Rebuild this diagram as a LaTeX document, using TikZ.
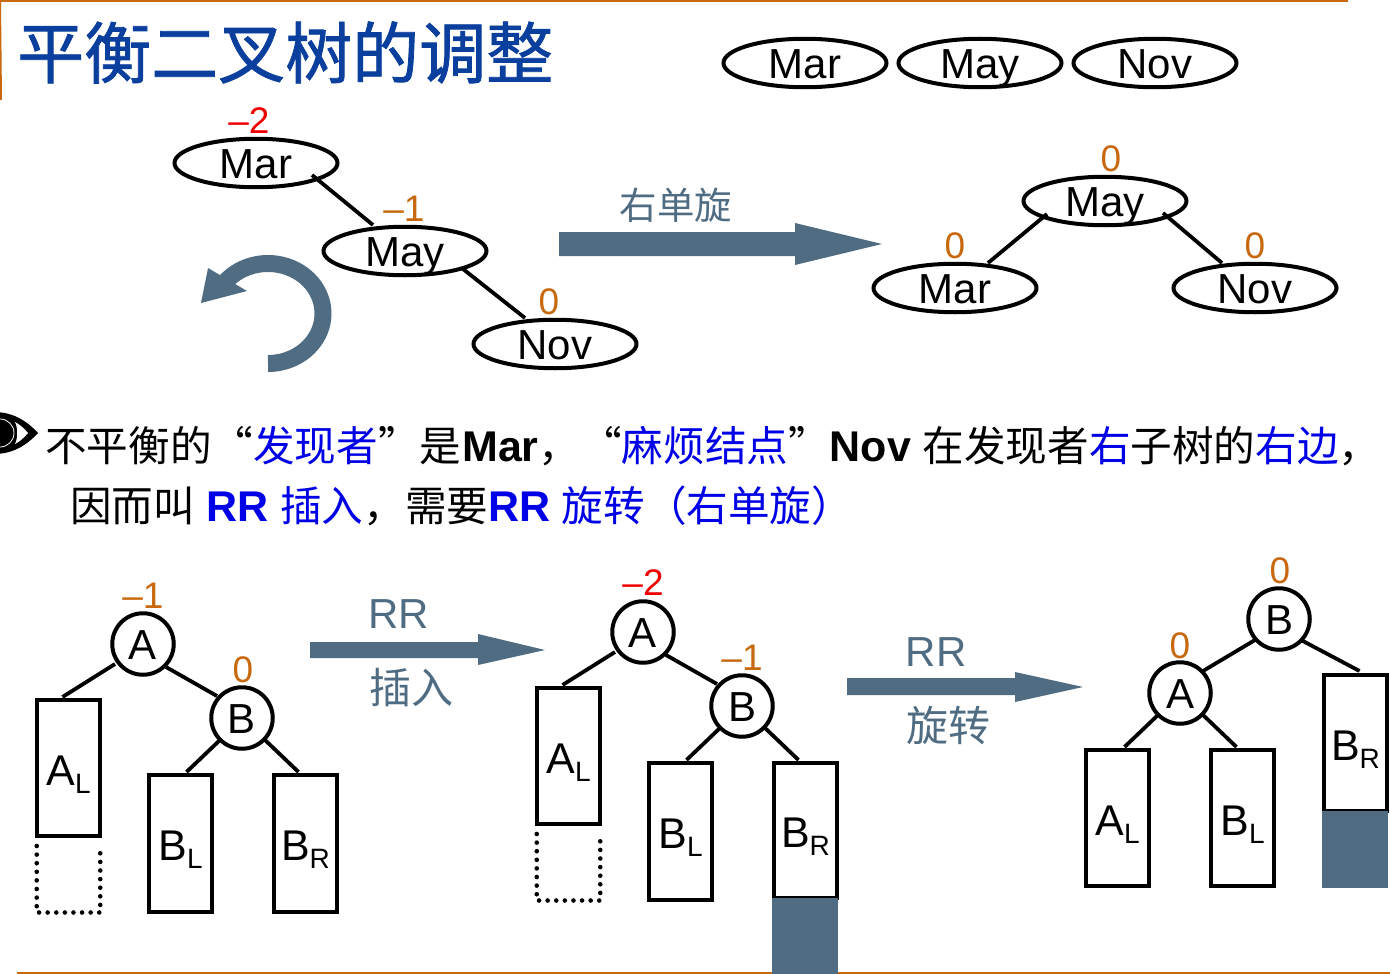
\documentclass[tikz,border=0pt]{standalone}
\usepackage{fontspec}
\usetikzlibrary{calc,shapes.geometric}
\setmainfont{Liberation Sans}
\newfontfamily\cjk{Noto Sans CJK SC}
\newfontfamily\cjktitle[FakeBold=1.2]{Noto Sans CJK SC}
\definecolor{rulec}{HTML}{C8690F}
\definecolor{slate}{HTML}{4F6C82}
\definecolor{titleblue}{HTML}{0B3F9E}
\definecolor{hlblue}{HTML}{0000E6}
\definecolor{balorange}{HTML}{C8690F}
\definecolor{balred}{HTML}{EE0000}
\newcommand{\fsz}[1]{\fontsize{#1}{#1}\selectfont}
\newcommand{\subt}[2]{#1\raisebox{-8pt}{\fsz{28}#2}}
\newcommand{\bl}[1]{\textbf{\fsz{43}#1}}
\tikzset{
  oval/.style={draw=black,ellipse,line width=4pt,minimum width=163pt,minimum height=48.5pt,inner sep=0pt,font=\fsz{42},text height=30pt,text depth=0pt},
  circ/.style={draw=black,circle,line width=4pt,minimum size=61.5pt,inner sep=0pt,font=\fsz{42},text height=30pt,text depth=0pt},
  subtree/.style={draw=black,rectangle,line width=4pt,minimum width=62.5pt,inner sep=0pt,font=\fsz{43},text height=34pt,text depth=0pt},
  balo/.style={text=balorange,font=\fsz{37},inner sep=0pt},
  balr/.style={text=balred,font=\fsz{37},inner sep=0pt},
  edge/.style={draw=black,line width=3.8pt},
  dots/.style={draw=black,line width=4.6pt,line cap=round,dash pattern=on 0pt off 8.6pt},
  note/.style={text=slate,inner sep=0pt},
  para/.style={anchor=base west,inner sep=0pt,font=\fsz{41.6}},
  ruleline/.style={draw=rulec,line width=2pt}
}
\begin{document}
\begin{tikzpicture}[x=1pt,y=-1pt]
\useasboundingbox (0,0) rectangle (1390,974);
% rules
\coordinate (r1) at (0,1); \coordinate (r2) at (1348,1); \coordinate (r3) at (1,100);
\coordinate (r4) at (17,973); \coordinate (r5) at (1390,973);
\draw[ruleline] (r2) -- (r1) -- (r3);
\draw[ruleline] (r4) -- (r5);
% title
\node[anchor=base west,inner sep=0pt,text=titleblue,font=\fsz{67}\cjktitle] (title) at (17,78) {平衡二叉树的调整};
% key row
\node[oval] (k1) at (805,63) {Mar};
\node[oval] (k2) at (980,63) {May};
\node[oval] (k3) at (1155,63) {Nov};
% tree before
\node[oval] (mar1) at (256,163) {Mar};
\node[oval] (may1) at (405,251) {May};
\node[oval] (nov1) at (555,344) {Nov};
\node[balr] (b1) at (249,120.5) {–2};
\node[balo] (b2) at (404,208.5) {–1};
\node[balo] (b3) at (549,301.5) {0};
\draw[edge] ($(mar1)+(56,12)$) -- ($(may1)+(-32,-26)$);
\draw[edge] ($(may1)+(58,18)$) -- ($(nov1)+(-30,-26)$);
% rotate mark
\draw[slate,line width=17pt] plot[smooth,domain=90:-140,samples=50] ({268+55*cos(\x)},{313.5+50*sin(\x)});
\fill[slate] (208,268) -- (201,303) -- (247,291) -- cycle;
% arrow top
\fill[slate] (559,232) -- (795,232) -- (795,223) -- (882,244) -- (795,265) -- (795,256) -- (559,256) -- cycle;
\node[note,font=\fsz{37.5}\cjk] (n1) at (676,205) {右单旋};
% tree after
\node[oval] (may2) at (1105,201) {May};
\node[oval] (mar2) at (955,288) {Mar};
\node[oval] (nov2) at (1255,288) {Nov};
\node[balo] (b4) at (1111,158.5) {0};
\node[balo] (b5) at (955,245.5) {0};
\node[balo] (b6) at (1255,245.5) {0};
\draw[edge] ($(may2)+(-58,13)$) -- ($(mar2)+(33,-25)$);
\draw[edge] ($(may2)+(58,12)$) -- ($(nov2)+(-33,-25)$);
% eye
\fill[black] (38,433) .. controls (26,420) and (12,412) .. (-6,412) -- (-6,454) .. controls (12,454) and (26,446) .. (38,433) -- cycle;
\fill[white] (28,433) .. controls (24,428) and (19,424) .. (15,422) .. controls (18,428) and (18,438) .. (15,444) .. controls (19,442) and (24,438) .. (28,433) -- cycle;
\draw[white,line width=0.8pt] (0,433) circle[radius=14pt];
% paragraph
\node[para] (p1) at (45,461) {{\cjk 不平衡的“\textcolor{hlblue}{发现者}”是}\kern1pt\bl{Mar}{\cjk ，“\textcolor{hlblue}{麻烦结点}”}\bl{Nov} {\cjk 在发现者\textcolor{hlblue}{右}子树的\textcolor{hlblue}{右边}，}};
\node[para] (p2) at (70,521.5) {{\cjk 因而叫} \textcolor{hlblue}{\bl{RR} {\cjk 插入}}{\cjk ，需要}\textcolor{hlblue}{\bl{RR} {\cjk 旋转（右单旋）}}};
% bottom tree 1
\node[circ] (a1) at (143,644) {A};
\node[circ] (c1) at (242,718) {B};
\node[subtree,minimum height=136pt] (al1) at (68.5,768) {\subt{A}{L}};
\node[subtree,minimum height=137pt] (bl1) at (180.5,843.5) {\subt{B}{L}};
\node[subtree,minimum height=137pt] (br1) at (305.5,843.5) {\subt{B}{R}};
\node[balo] (b7) at (143,595.5) {–1};
\node[balo] (b8) at (243,669.5) {0};
\draw[edge] ($(a1)+(-28,20)$) -- ($(al1.north)+(-6,-1)$);
\draw[edge] ($(a1)+(23,23)$) -- ($(c1)+(-25,-22)$);
\draw[edge] ($(c1)+(-22,22)$) -- ($(bl1.north)+(6,-1)$);
\draw[edge] ($(c1)+(23,22)$) -- ($(br1.north)+(-7,-1)$);
\draw[dots] ($(al1.south west)+(1.5,8)$) -- ($(al1.south west)+(1.5,74.5)$) -- ($(al1.south east)+(-1.5,74.5)$) -- ($(al1.south east)+(-1.5,8)$);
% arrow 1
\fill[slate] (310,642) -- (478,642) -- (478,634) -- (545,650) -- (478,665) -- (478,658) -- (310,658) -- cycle;
\node[note,font=\fsz{42}] (n2) at (399,614) {RR};
\node[note,font=\fsz{42}\cjk] (n3) at (411,688) {插入};
% bottom tree 2
\node[circ] (a2) at (643,632) {A};
\node[circ] (c2) at (742,706) {B};
\node[subtree,minimum height=136pt] (al2) at (568.5,756) {\subt{A}{L}};
\node[subtree,minimum height=137pt] (bl2) at (680.5,831.5) {\subt{B}{L}};
\node[subtree,minimum height=135pt] (br2) at (805.5,830.5) {\subt{B}{R}};
\node[balr] (b9) at (643,582.5) {–2};
\node[balo] (b10) at (742,657.5) {–1};
\draw[edge] ($(a2)+(-28,20)$) -- ($(al2.north)+(-6,-1)$);
\draw[edge] ($(a2)+(23,23)$) -- ($(c2)+(-25,-22)$);
\draw[edge] ($(c2)+(-22,22)$) -- ($(bl2.north)+(6,-1)$);
\draw[edge] ($(c2)+(23,22)$) -- ($(br2.north)+(-7,-1)$);
\draw[dots] ($(al2.south west)+(1.5,8)$) -- ($(al2.south west)+(1.5,74.5)$) -- ($(al2.south east)+(-1.5,74.5)$) -- ($(al2.south east)+(-1.5,8)$);
\fill[slate] (772,898) rectangle (838,974);
% arrow 2
\fill[slate] (847,678) -- (1015,678) -- (1015,672) -- (1083,687) -- (1015,702) -- (1015,695) -- (847,695) -- cycle;
\node[note,font=\fsz{42}] (n4) at (936,652) {RR};
\node[note,font=\fsz{42}\cjk] (n5) at (948,726) {旋转};
% bottom tree 3
\node[circ] (c3) at (1279,619) {B};
\node[circ] (a3) at (1180,693) {A};
\node[subtree,minimum height=136pt] (al3) at (1117.5,818) {\subt{A}{L}};
\node[subtree,minimum height=136pt] (bl3) at (1242.5,818) {\subt{B}{L}};
\node[subtree,minimum height=136pt] (br3) at (1355.5,743) {\subt{B}{R}};
\node[balo] (b11) at (1280,570.5) {0};
\node[balo] (b12) at (1180,645.5) {0};
\draw[edge] ($(c3)+(-24,21)$) -- ($(a3)+(23,-22)$);
\draw[edge] ($(c3)+(22,21)$) -- ($(br3.north)+(4,-2)$);
\draw[edge] ($(a3)+(-22,22)$) -- ($(al3.north)+(7,-1)$);
\draw[edge] ($(a3)+(23,22)$) -- ($(bl3.north)+(-6,-1)$);
\fill[slate] (1322,811) rectangle (1388,888);
\end{tikzpicture}
\end{document}
